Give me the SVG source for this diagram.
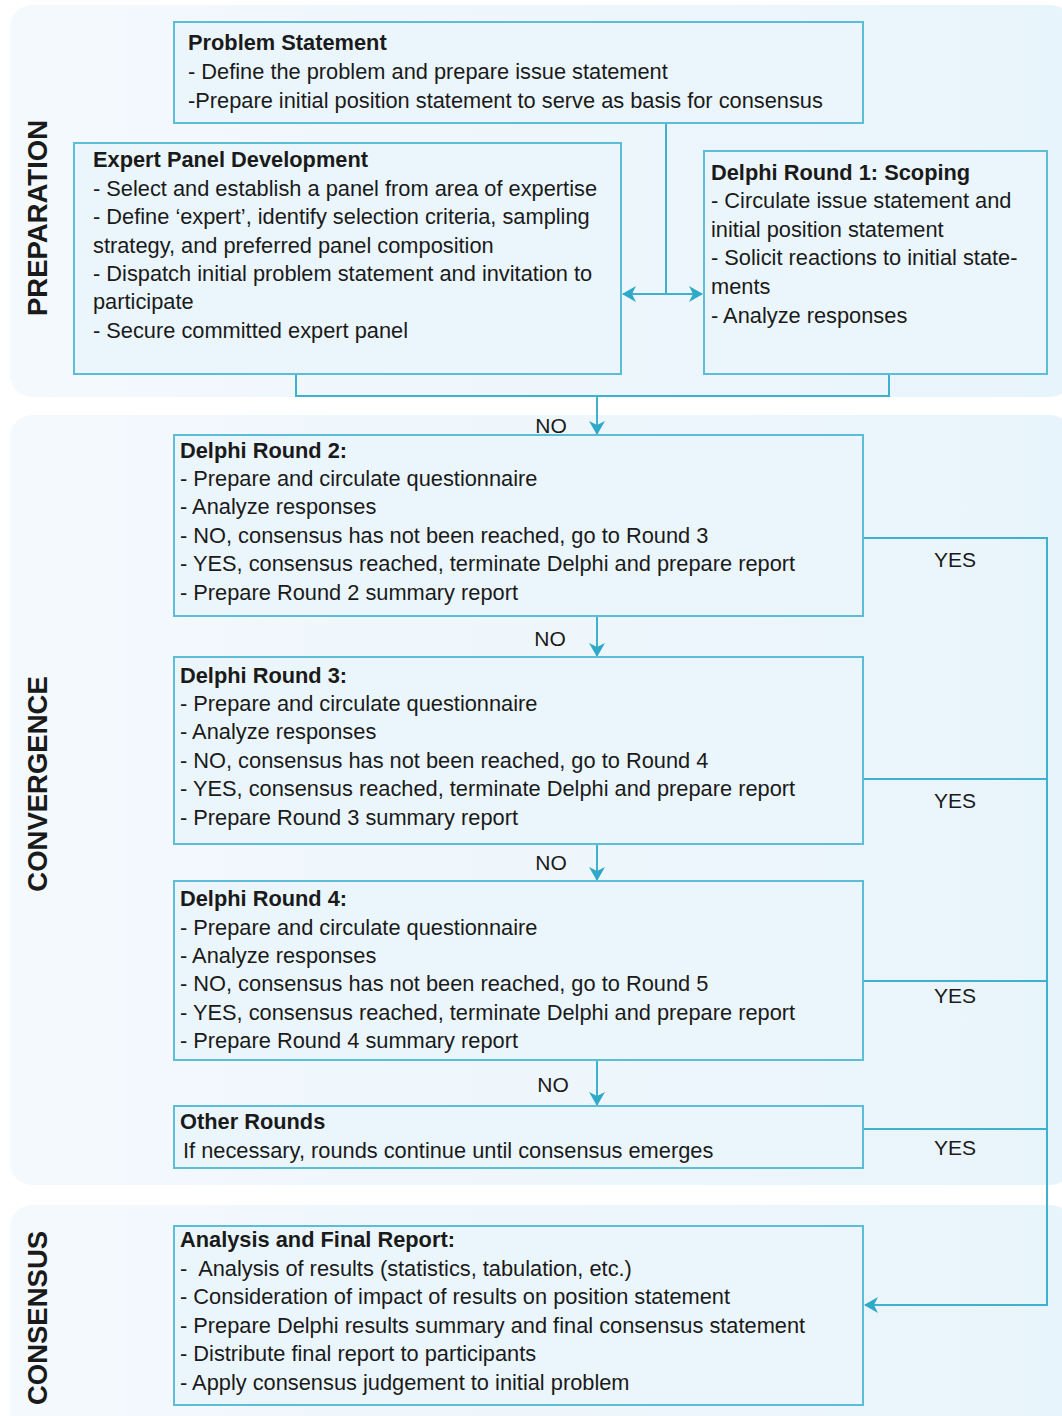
<svg xmlns="http://www.w3.org/2000/svg" width="1062" height="1416" viewBox="0 0 1062 1416">
<defs>
<linearGradient id="bg" x1="0" y1="0" x2="1" y2="0">
<stop offset="0" stop-color="#f4f9fd"/>
<stop offset="1" stop-color="#e8f4fb"/>
</linearGradient>
<marker id="ah" viewBox="0 0 14 16" refX="13" refY="8" markerWidth="14" markerHeight="16" markerUnits="userSpaceOnUse" orient="auto-start-reverse">
<path d="M0,0 L14,8 L0,16 L4,8 z" fill="#2ea9c8"/>
</marker>
</defs>
<style>
.sec{fill:url(#bg)}
.box{fill:#ebf6fc;stroke:#5ebdd6;stroke-width:2}
.con{fill:none;stroke:#3fb0cd;stroke-width:2}
text{font-family:"Liberation Sans",Arial,sans-serif;font-size:21.8px;fill:#1a1a1a}
.t{font-weight:bold}
.lab{font-size:21px}
.side{font-weight:bold;font-size:27.5px;text-anchor:middle}
</style>
<rect class="sec" x="10" y="5" width="1062" height="392" rx="22"/>
<rect class="sec" x="10" y="415" width="1062" height="770" rx="22"/>
<rect class="sec" x="10" y="1205" width="1062" height="230" rx="22"/>
<text class="side" transform="translate(47,218) rotate(-90)">PREPARATION</text>
<text class="side" transform="translate(47,784) rotate(-90)">CONVERGENCE</text>
<text class="side" transform="translate(47,1318) rotate(-90)">CONSENSUS</text>
<g id="connectors">
<path class="con" d="M666,123 V294"/>
<path class="con" d="M666,294 H623" marker-end="url(#ah)"/>
<path class="con" d="M666,294 H702" marker-end="url(#ah)"/>
<path class="con" d="M296,374 V396 H889 V374"/>
<path class="con" d="M597,396 V434" marker-end="url(#ah)"/>
<path class="con" d="M597,616 V656" marker-end="url(#ah)"/>
<path class="con" d="M597,844 V880" marker-end="url(#ah)"/>
<path class="con" d="M597,1060 V1105" marker-end="url(#ah)"/>
<path class="con" d="M863,538 H1047 V1305 H865" marker-end="url(#ah)"/>
<path class="con" d="M863,779 H1047"/>
<path class="con" d="M863,981 H1047"/>
<path class="con" d="M863,1129 H1047"/>
<text class="lab" x="551" y="433" text-anchor="middle">NO</text>
<text class="lab" x="550" y="646" text-anchor="middle">NO</text>
<text class="lab" x="551" y="870" text-anchor="middle">NO</text>
<text class="lab" x="553" y="1092" text-anchor="middle">NO</text>
<text class="lab" x="955" y="567" text-anchor="middle">YES</text>
<text class="lab" x="955" y="808" text-anchor="middle">YES</text>
<text class="lab" x="955" y="1003" text-anchor="middle">YES</text>
<text class="lab" x="955" y="1155" text-anchor="middle">YES</text>
</g>
<g id="problem">
<rect class="box" x="174" y="22" width="689" height="101"/>
<text class="t" x="188" y="50">Problem Statement</text>
<text x="188" y="79">- Define the problem and prepare issue statement</text>
<text x="188" y="108">-Prepare initial position statement to serve as basis for consensus</text>
</g>
<g id="expert">
<rect class="box" x="74" y="143" width="547" height="231"/>
<text class="t" x="93" y="167">Expert Panel Development</text>
<text x="93" y="196">- Select and establish a panel from area of expertise</text>
<text x="93" y="224">- Define ‘expert’, identify selection criteria, sampling</text>
<text x="93" y="253">strategy, and preferred panel composition</text>
<text x="93" y="281">- Dispatch initial problem statement and invitation to</text>
<text x="93" y="309">participate</text>
<text x="93" y="338">- Secure committed expert panel</text>
</g>
<g id="round1">
<rect class="box" x="704" y="151" width="343" height="223"/>
<text class="t" x="711" y="180">Delphi Round 1: Scoping</text>
<text x="711" y="208">- Circulate issue statement and</text>
<text x="711" y="237">initial position statement</text>
<text x="711" y="265">- Solicit reactions to initial state-</text>
<text x="711" y="294">ments</text>
<text x="711" y="323">- Analyze responses</text>
</g>
<g id="round2">
<rect class="box" x="174" y="435" width="689" height="181"/>
<text class="t" x="180" y="458">Delphi Round 2:</text>
<text x="180" y="486">- Prepare and circulate questionnaire</text>
<text x="180" y="514">- Analyze responses</text>
<text x="180" y="543">- NO, consensus has not been reached, go to Round 3</text>
<text x="180" y="571">- YES, consensus reached, terminate Delphi and prepare report</text>
<text x="180" y="600">- Prepare Round 2 summary report</text>
</g>
<g id="round3">
<rect class="box" x="174" y="657" width="689" height="187"/>
<text class="t" x="180" y="683">Delphi Round 3:</text>
<text x="180" y="711">- Prepare and circulate questionnaire</text>
<text x="180" y="739">- Analyze responses</text>
<text x="180" y="768">- NO, consensus has not been reached, go to Round 4</text>
<text x="180" y="796">- YES, consensus reached, terminate Delphi and prepare report</text>
<text x="180" y="825">- Prepare Round 3 summary report</text>
</g>
<g id="round4">
<rect class="box" x="174" y="881" width="689" height="179"/>
<text class="t" x="180" y="906">Delphi Round 4:</text>
<text x="180" y="935">- Prepare and circulate questionnaire</text>
<text x="180" y="963">- Analyze responses</text>
<text x="180" y="991">- NO, consensus has not been reached, go to Round 5</text>
<text x="180" y="1020">- YES, consensus reached, terminate Delphi and prepare report</text>
<text x="180" y="1048">- Prepare Round 4 summary report</text>
</g>
<g id="other">
<rect class="box" x="174" y="1106" width="689" height="62"/>
<text class="t" x="180" y="1129">Other Rounds</text>
<text x="183" y="1158">If necessary, rounds continue until consensus emerges</text>
</g>
<g id="final">
<rect class="box" x="174" y="1226" width="689" height="179"/>
<text class="t" x="180" y="1247">Analysis and Final Report:</text>
<text x="180" y="1276" xml:space="preserve">-  Analysis of results (statistics, tabulation, etc.)</text>
<text x="180" y="1304">- Consideration of impact of results on position statement</text>
<text x="180" y="1333">- Prepare Delphi results summary and final consensus statement</text>
<text x="180" y="1361">- Distribute final report to participants</text>
<text x="180" y="1390">- Apply consensus judgement to initial problem</text>
</g>
</svg>
